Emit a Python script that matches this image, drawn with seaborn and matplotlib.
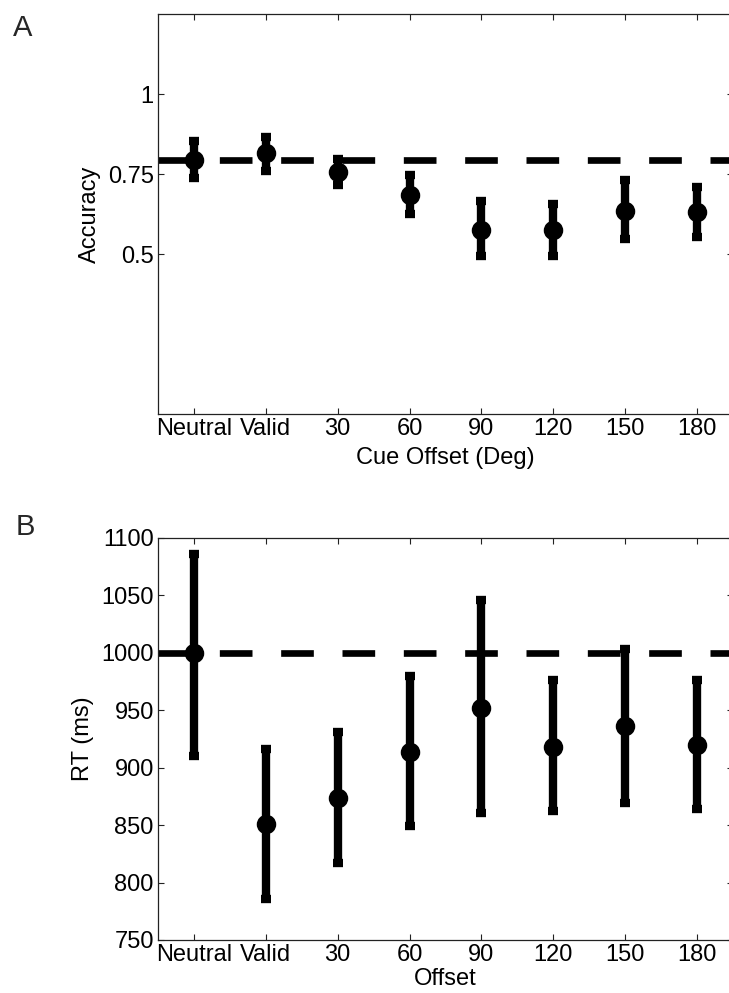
#!/usr/bin/env python3
#===============================================================================
# plot
#===============================================================================

# Imports ======================================================================

import numpy as np
import pandas as pd
import seaborn as sns
import matplotlib
matplotlib.use('Agg')
import matplotlib.pyplot as plt


# Data =========================================================================

conditions = ['Neutral', 'Valid', '30', '60', '90', '120', '150', '180']

acc_mean = [0.794, 0.816, 0.756, 0.684, 0.575, 0.575, 0.634, 0.631]
acc_low = [0.737, 0.759, 0.716, 0.625, 0.494, 0.494, 0.547, 0.553]
acc_high = [0.853, 0.866, 0.797, 0.747, 0.666, 0.656, 0.731, 0.709]

rt_mean = [1000, 851, 874, 914, 952, 918, 936, 920]
rt_low = [910, 786, 817, 849, 861, 862, 869, 864]
rt_high = [1086, 916, 931, 980, 1046, 976, 1003, 976]

acc_ticks = [0.5, 0.75, 1]
acc_ticklabels = ['0.5', '0.75', '1']
rt_ticks = [750, 800, 850, 900, 950, 1000, 1050, 1100]


# Functions ====================================================================

def draw_panel(ax, mean, low, high, ref, ylim, yticks, yticklabels, xlabel,
               ylabel, xpad):
    df = pd.DataFrame({'cond': conditions, 'val': mean})
    mean = np.asarray(mean, dtype=float)
    err = [mean - np.asarray(low), np.asarray(high) - mean]
    ax.axhline(ref, color='black', lw=4.8, linestyle=(0, (4.9, 4.3)),
               dash_capstyle='butt', zorder=1)
    ax.errorbar(np.arange(len(conditions)), mean, yerr=err, fmt='none',
                ecolor='black', elinewidth=6, capsize=3.5, capthick=6,
                zorder=2)
    sns.pointplot(data=df, x='cond', y='val', order=conditions,
                  color='black', linestyle='none', markers='o',
                  markersize=12, errorbar=None, ax=ax, zorder=3)
    ax.set_xlim(-0.5, len(conditions) - 0.5)
    ax.set_ylim(*ylim)
    ax.set_yticks(yticks)
    ax.set_yticklabels(yticklabels)
    ax.set_xticks(range(len(conditions)))
    ax.set_xticklabels(conditions)
    ax.set_xlabel(xlabel, fontsize=17, labelpad=xpad, color='black')
    ax.set_ylabel(ylabel, fontsize=17, labelpad=5, color='black')
    ax.tick_params(direction='in', top=True, right=True, length=4,
                   width=0.8, labelsize=17, pad=3, color='#222222',
                   labelcolor='black')
    for s in ax.spines.values():
        s.set_linewidth(0.9)
        s.set_color('#222222')
        s.set_visible(True)


def main():
    sns.set_style('ticks')
    plt.rcParams['font.family'] = ['Liberation Sans', 'DejaVu Sans']
    fig = plt.figure(figsize=(7.29, 9.93), dpi=100)
    W, H = 729.0, 993.0
    ax1 = fig.add_axes([158 / W, 1 - 414 / H, 575 / W, 400 / H])
    ax2 = fig.add_axes([158 / W, 1 - 940 / H, 575 / W, 402 / H])

    draw_panel(ax1, acc_mean, acc_low, acc_high, acc_mean[0], (0, 1.25),
               acc_ticks, acc_ticklabels, 'Cue Offset (Deg)', 'Accuracy', 5)
    draw_panel(ax2, rt_mean, rt_low, rt_high, rt_mean[0], (750, 1100),
               rt_ticks, [str(t) for t in rt_ticks], 'Offset', 'RT (ms)', 1)

    fig.text(13 / W, 1 - 36 / H, 'A', fontsize=21, ha='left', va='baseline')
    fig.text(16 / W, 1 - 535 / H, 'B', fontsize=21, ha='left', va='baseline')

    fig.savefig('out.png', dpi=100)


# Execute ======================================================================

if __name__ == '__main__':
    main()
